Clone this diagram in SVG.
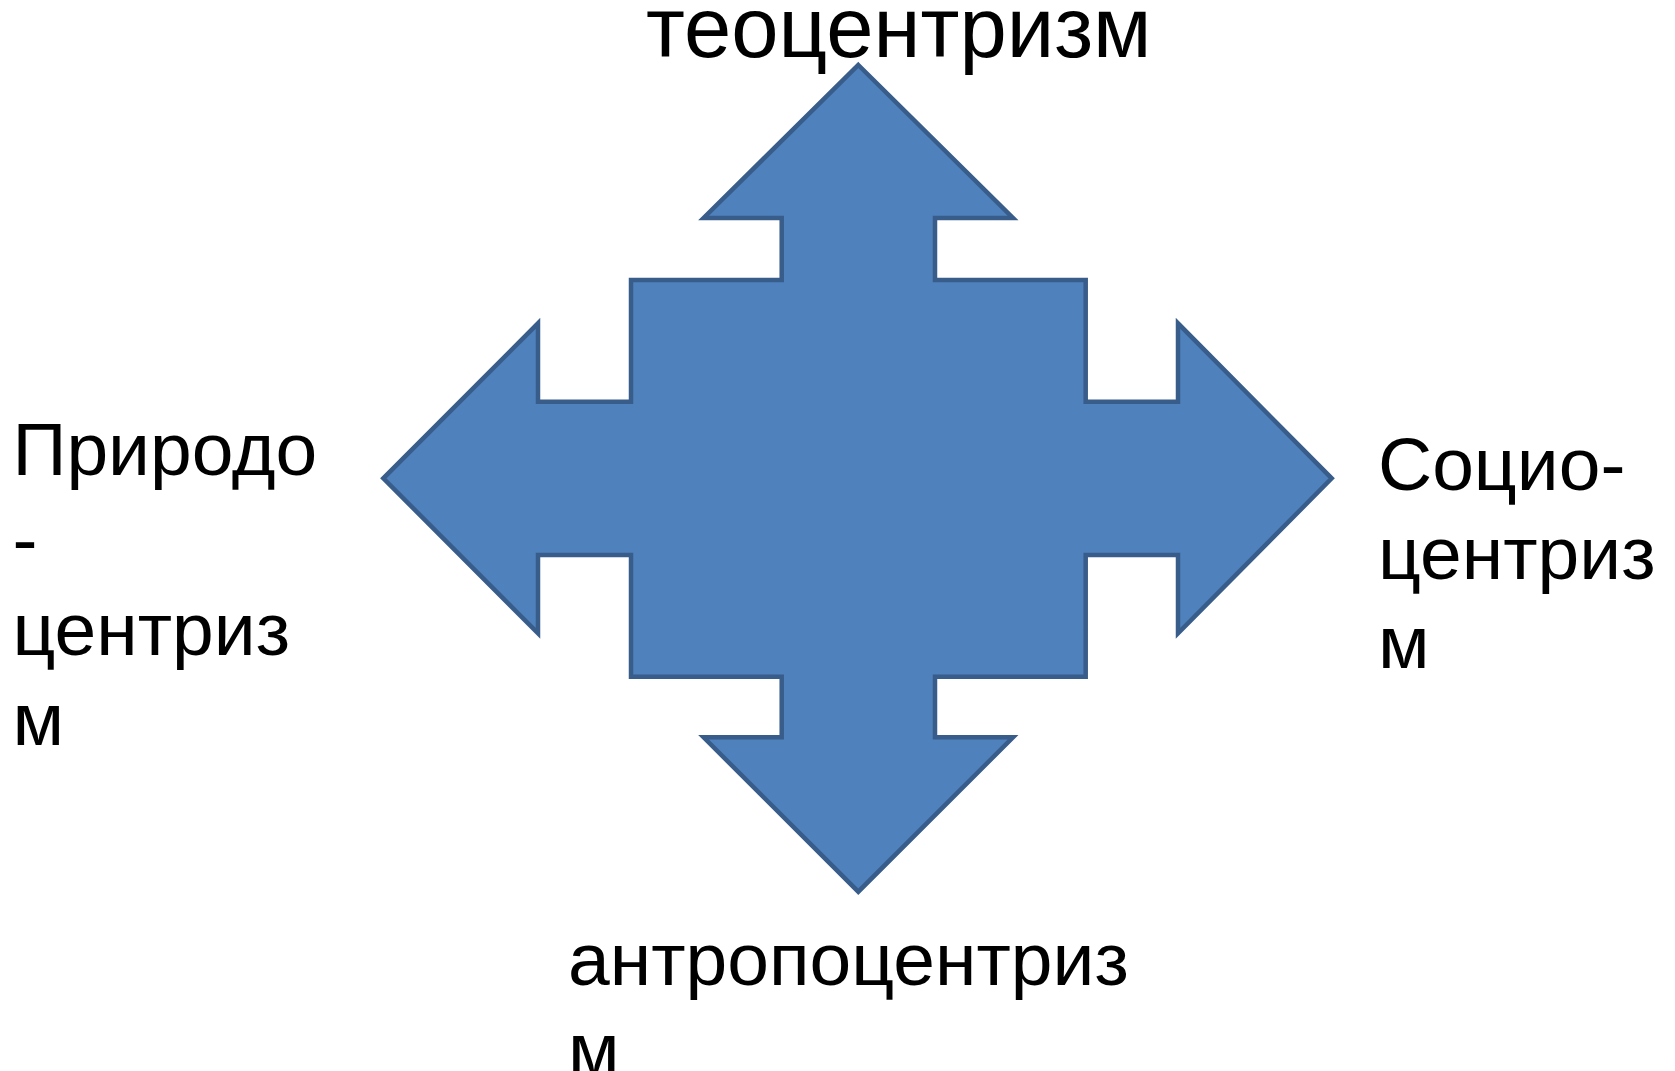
<svg xmlns="http://www.w3.org/2000/svg" width="1675" height="1071" viewBox="0 0 1675 1071">
<style>
.lbl{font-family:"Liberation Sans",Arial,sans-serif;fill:#000;}
.side{font-size:75px;}
.shape{fill:#4F81BD;stroke:#385D8A;stroke-width:4.5;stroke-linejoin:miter;}
</style>
<rect width="1675" height="1071" fill="#fff"/>
<g id="quad-arrow">
<polygon class="shape" points="858.3,65 1013,218 935,218 935,280 1085.7,280 1085.7,401.7 1178,401.7 1178,323.3 1331.7,478.3 1178,633.3 1178,555 1085.7,555 1085.7,676.7 935,676.7 935,737.3 1013,737.3 858.3,891.7 703.6,737.3 781.7,737.3 781.7,676.7 631,676.7 631,555 538,555 538,633.3 383.3,478.3 538,323.3 538,401.7 631,401.7 631,280 781.7,280 781.7,218 703.6,218"/>
</g>
<g id="connectors"></g>
<g id="label-top">
<text class="lbl" x="646" y="57" font-size="85">теоцентризм</text>
</g>
<g id="label-left">
<text class="lbl side" x="12.5" y="475">Природо</text>
<text class="lbl side" x="12.5" y="565">-</text>
<text class="lbl side" x="12.5" y="655">центриз</text>
<text class="lbl side" x="12.5" y="745">м</text>
</g>
<g id="label-right">
<text class="lbl side" x="1378" y="490">Социо-</text>
<text class="lbl side" x="1378" y="579">центриз</text>
<text class="lbl side" x="1378" y="668">м</text>
</g>
<g id="label-bottom">
<text class="lbl side" x="568" y="985">антропоцентриз</text>
<text class="lbl side" x="568" y="1075">м</text>
</g>
</svg>
